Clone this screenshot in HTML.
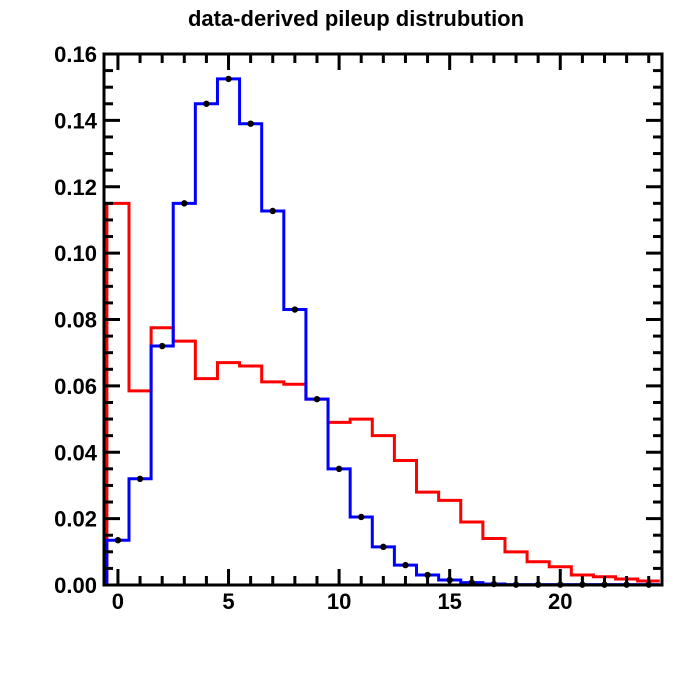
<!DOCTYPE html>
<html><head><meta charset="utf-8"><style>
body{margin:0;background:#fff;}
svg text{font-family:"Liberation Sans",sans-serif;font-weight:bold;}
</style></head><body>
<svg id="c" width="696" height="672" xmlns="http://www.w3.org/2000/svg">
<text x="356" y="26" text-anchor="middle" font-size="22">data-derived pileup distrubution</text>
<g id="g"></g>
</svg>
<script>
const blueValues=[0.0135,0.032,0.072,0.115,0.145,0.1525,0.139,0.1127,0.083,0.056,0.035,0.0205,0.0115,0.006,0.003,0.0015,0.0007,0.0003,0.0001,0.0001,0.0001,0.0001,0.0001,0.0001,0.0001];
const redValues=[0.115,0.0585,0.0775,0.0735,0.0622,0.067,0.066,0.0612,0.0605,0.056,0.049,0.050,0.045,0.0375,0.028,0.0255,0.019,0.014,0.010,0.007,0.0055,0.003,0.0025,0.0018,0.0012];
const xTicks=[0,5,10,15,20];
const yTicks=[0,0.02,0.04,0.06,0.08,0.10,0.12,0.14,0.16];
const yTickLabels=["0.00","0.02","0.04","0.06","0.08","0.10","0.12","0.14","0.16"];
const L=104,R=662,T=54,B=585;
const xMin=-0.63,xMax=24.6,yMax=0.16;
const sx=v=>L+(v-xMin)/(xMax-xMin)*(R-L);
const sy=v=>B-v/yMax*(B-T);
const NS="http://www.w3.org/2000/svg";
const g=document.getElementById('g');
function mk(t,a){const e=document.createElementNS(NS,t);for(const k in a)e.setAttribute(k,a[k]);g.appendChild(e);return e;}
function hist(vals,color,name){
  let d="M"+sx(-0.5)+","+sy(0);
  vals.forEach((v,i)=>{d+=" L"+sx(i-0.5)+","+sy(v)+" L"+sx(Math.min(i+0.5,xMax))+","+sy(v);});
  const p=mk('path',{d:d,fill:'none',stroke:color,'stroke-width':3});
  
  
}
hist(redValues,'#ff0000','red-series');
hist(blueValues,'#0000ff','blue-series');
blueValues.forEach((v,i)=>{
  const c=mk('circle',{cx:sx(i),cy:sy(v),r:3.2,fill:'#000'});
  
  
});
const f=mk('rect',{x:L,y:T,width:R-L,height:B-T,fill:'none',stroke:'#000','stroke-width':3});


for(let i=0;i<=24;i++){
  const len=(i%5===0)?16:9;const x=sx(i);
  mk('line',{x1:x,y1:B,x2:x,y2:B-len,stroke:'#000','stroke-width':3});
  mk('line',{x1:x,y1:T,x2:x,y2:T+len,stroke:'#000','stroke-width':3});
}
xTicks.forEach(v=>{
  const t=mk('text',{x:sx(v),y:609,'text-anchor':'middle','font-size':22});
  t.textContent=v;
  
  
});
for(let k=0;k<=32;k++){
  const v=k*0.005;const y=sy(v);const len=(k%4===0)?16:9;
  mk('line',{x1:L,y1:y,x2:L+len,y2:y,stroke:'#000','stroke-width':3});
  mk('line',{x1:R,y1:y,x2:R-len,y2:y,stroke:'#000','stroke-width':3});
}
yTicks.forEach((v,i)=>{
  const t=mk('text',{x:97,y:sy(v)+8,'text-anchor':'end','font-size':22});
  t.textContent=yTickLabels[i];
  
  
});
</script>
</body></html>
